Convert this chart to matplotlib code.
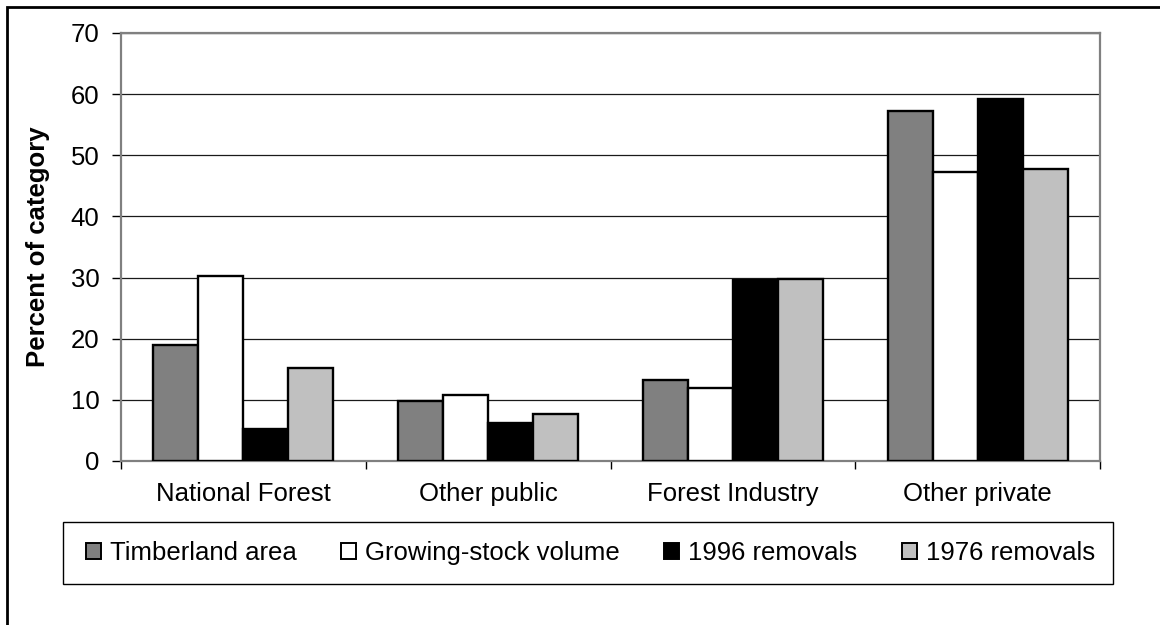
import matplotlib
matplotlib.use("Agg")
import matplotlib.pyplot as plt
from matplotlib.patches import Rectangle, Patch
import numpy as np

plt.rcParams['font.family'] = ['Liberation Sans', 'DejaVu Sans']

categories = ["National Forest", "Other public", "Forest Industry", "Other private"]
series_names = ["Timberland area", "Growing-stock volume", "1996 removals", "1976 removals"]
timberland = [19.0, 9.8, 13.2, 57.2]
growing_stock = [30.3, 10.8, 12.0, 47.3]
removals_1996 = [5.2, 6.2, 29.6, 59.2]
removals_1976 = [15.2, 7.7, 29.8, 47.7]
yticks = [0, 10, 20, 30, 40, 50, 60, 70]

series = [timberland, growing_stock, removals_1996, removals_1976]
colors = ["#808080", "#FFFFFF", "#000000", "#C0C0C0"]

FS = 18.5
W, H = 1160, 625
fig = plt.figure(figsize=(W / 100, H / 100), dpi=100)
ax = fig.add_axes([121 / W, 1 - 461 / H, (1100 - 121) / W, (461 - 33) / H])

x = np.arange(len(categories))
bw = 0.184
for i, (vals, c) in enumerate(zip(series, colors)):
    ax.bar(x + (i - 1.5) * bw, vals, width=bw, color=c, edgecolor="black",
           linewidth=1.7, label=series_names[i], zorder=3)

ax.set_xlim(-0.5, 3.5)
ax.set_ylim(0, 70)
ax.set_yticks(yticks)
ax.set_yticklabels([str(v) for v in yticks], fontsize=FS)
ax.yaxis.grid(True, color="#1a1a1a", linewidth=0.9, zorder=0)
ax.set_axisbelow(True)

ax.set_xticks(x)
ax.set_xticklabels(categories, fontsize=FS)
ax.tick_params(axis='x', which='major', length=0, pad=15)
ax.set_xticks([-0.5, 0.5, 1.5, 2.5, 3.5], minor=True)
ax.tick_params(axis='x', which='minor', length=6, width=1, color="#000000", direction='out')
ax.tick_params(axis='y', length=6.5, width=1, color="#000000", direction='out', pad=9)

for s in ax.spines.values():
    s.set_color("#808080")
    s.set_linewidth(1.6)

ax.set_ylabel("Percent of category", fontsize=FS, fontweight='bold')
ax.yaxis.set_label_coords((50 - 121) / (1100 - 121), 0.5)

# legend frame drawn explicitly
fig.patches.append(Rectangle((63 / W, 1 - 584 / H), (1113 - 63) / W, (584 - 522) / H,
                             transform=fig.transFigure, fill=False,
                             edgecolor="black", linewidth=1.0))
handles = [Patch(facecolor=c, edgecolor="black", linewidth=1.4) for c in colors]
leg = fig.legend(handles, series_names, loc='center', ncol=4,
                 bbox_to_anchor=(86 / W, 1 - 575 / H, (1095 - 86) / W, (575 - 531) / H),
                 mode='expand', frameon=False, fontsize=FS,
                 handlelength=0.58, handleheight=0.58, handletextpad=0.35,
                 columnspacing=1.0, borderaxespad=0, borderpad=0)

# outer frame (cropped at right and bottom)
fig.patches.append(Rectangle((7 / W, -0.1), 1.2, 1.1 - 7 / H,
                             transform=fig.transFigure, fill=False,
                             edgecolor="black", linewidth=2))

fig.savefig("out.png", dpi=100)
